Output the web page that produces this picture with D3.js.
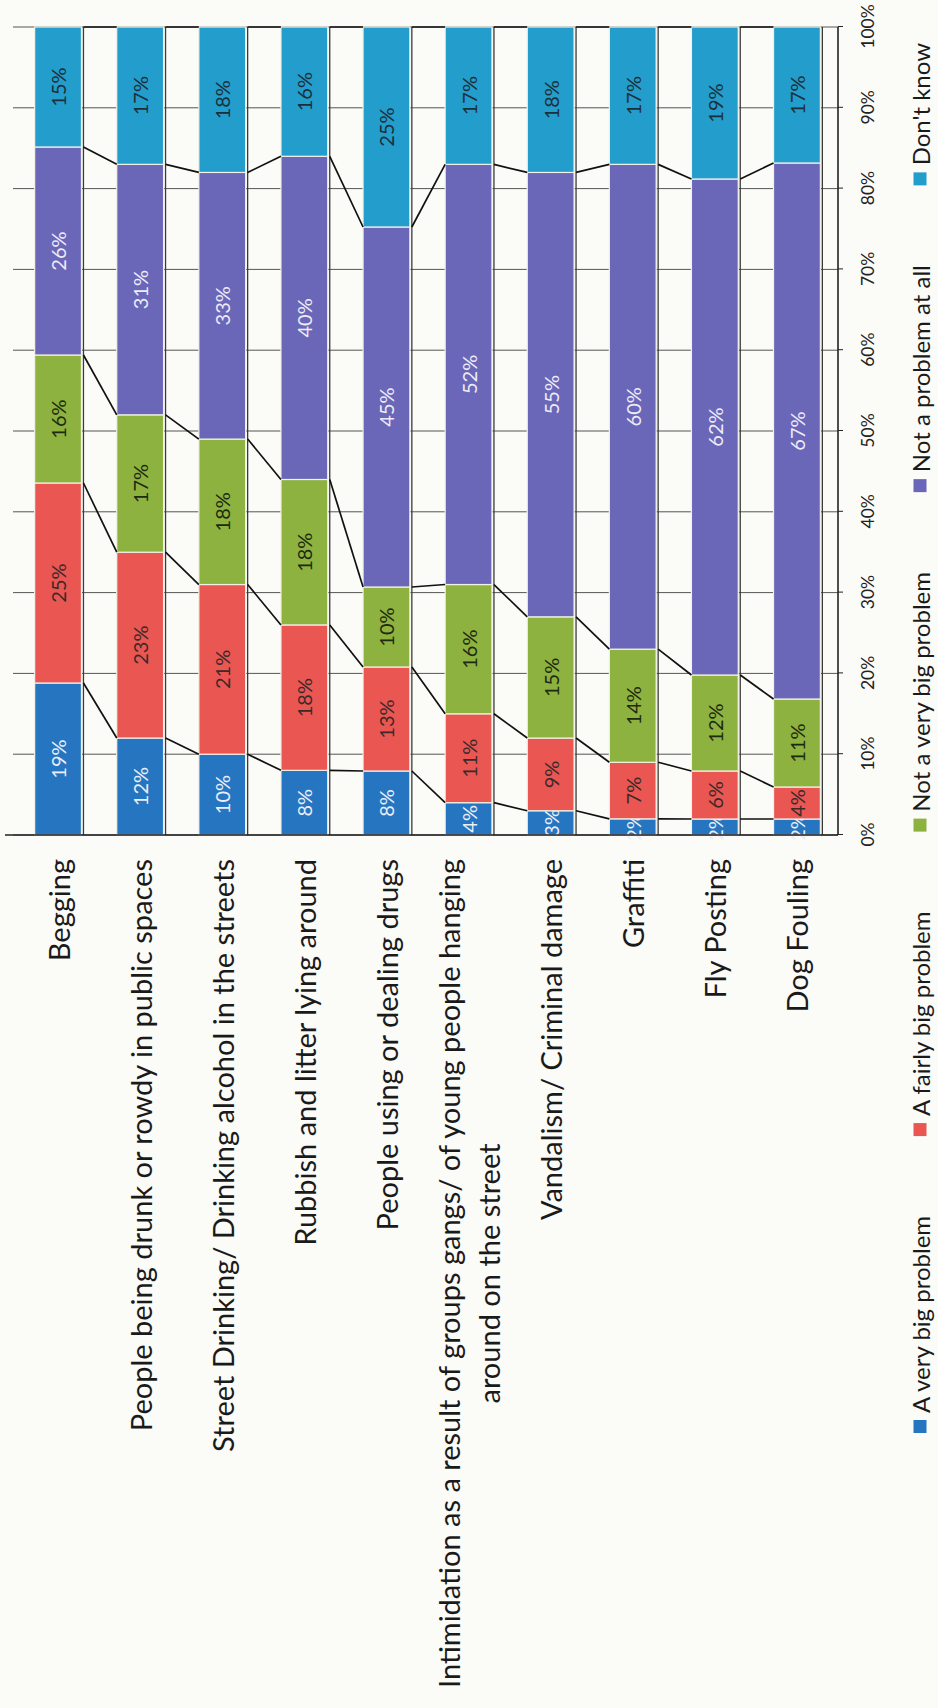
<!DOCTYPE html>
<html>
<head>
<meta charset="utf-8">
<script src="https://cdn.jsdelivr.net/npm/d3@7/dist/d3.min.js"></script>
<style>
  html, body { margin: 0; padding: 0; background: #fbfbf8; }
  svg { display: block; font-family: Lato, "Open Sans", sans-serif; }
</style>
</head>
<body>
<div id="chart"></div>
<script>
"use strict";

// data (rows top to bottom of the original chart)
var categories = [
  "Begging",
  "People being drunk or rowdy in public spaces",
  "Street Drinking/ Drinking alcohol in the streets",
  "Rubbish and litter lying around",
  "People using or dealing drugs",
  "Intimidation as a result of groups gangs/ of young people hanging\naround on the street",
  "Vandalism/ Criminal damage",
  "Graffiti",
  "Fly Posting",
  "Dog Fouling"
];
var seriesNames = ["A very big problem", "A fairly big problem", "Not a very big problem", "Not a problem at all", "Don't know"];
var veryBig    = [19, 12, 10,  8,  8,  4,  3,  2,  2,  2];
var fairlyBig  = [25, 23, 21, 18, 13, 11,  9,  7,  6,  4];
var notVeryBig = [16, 17, 18, 18, 10, 16, 15, 14, 12, 11];
var notAtAll   = [26, 31, 33, 40, 45, 52, 55, 60, 62, 67];
var dontKnow   = [15, 17, 18, 16, 25, 17, 18, 17, 19, 17];
var tickLabels = ["0%", "10%", "20%", "30%", "40%", "50%", "60%", "70%", "80%", "90%", "100%"];

var colors = ["#2675c1", "#ea5652", "#8db23f", "#6a66b8", "#239dcb"];
var labelColors = ["#e9eef7", "#3a2a2a", "#1e2a10", "#ecebf7", "#1d2f3a"];

var W = 938, H = 1708;

var rows = categories.map(function (c, i) {
  var r = { cat: c };
  r[seriesNames[0]] = veryBig[i];
  r[seriesNames[1]] = fairlyBig[i];
  r[seriesNames[2]] = notVeryBig[i];
  r[seriesNames[3]] = notAtAll[i];
  r[seriesNames[4]] = dontKnow[i];
  return r;
});

// 100% stacked, so rows summing to 101 still fill the bar
var stacked = d3.stack().keys(seriesNames).offset(d3.stackOffsetExpand)(rows);

var svg = d3.select("#chart").append("svg")
  .attr("width", W).attr("height", H);

// the scanned page is turned a quarter turn, so draw upright and rotate
var g = svg.append("g")
  .attr("transform", "translate(0," + H + ") rotate(-90)");

var plotBottom = 838;
var x = d3.scaleLinear().domain([0, 1]).range([873, 1681]);
var y = d3.scaleBand().domain(categories).range([17, plotBottom])
  .paddingInner(0.43).paddingOuter(0.215);
var bw = y.bandwidth();

var tickVals = tickLabels.map(function (s) { return parseFloat(s) / 100; });

// gridlines
g.append("g").selectAll("line")
  .data(tickVals)
  .enter().append("line")
  .attr("x1", function (d) { return x(d); })
  .attr("x2", function (d) { return x(d); })
  .attr("y1", 13).attr("y2", plotBottom)
  .attr("stroke", "#555").attr("stroke-width", 1);

// dark line along each bar's edge
g.append("g").selectAll("line")
  .data(categories)
  .enter().append("line")
  .attr("x1", x(0)).attr("x2", x(1))
  .attr("y1", function (d) { return y(d) + bw + 2; })
  .attr("y2", function (d) { return y(d) + bw + 2; })
  .attr("stroke", "#3a3a3a").attr("stroke-width", 1.3);

// bars
var layers = g.append("g").selectAll("g")
  .data(stacked)
  .enter().append("g")
  .attr("fill", function (d, i) { return colors[i]; });

layers.selectAll("rect")
  .data(function (d) { return d; })
  .enter().append("rect")
  .attr("x", function (d) { return x(d[0]); })
  .attr("width", function (d) { return x(d[1]) - x(d[0]); })
  .attr("y", function (d) { return y(d.data.cat); })
  .attr("height", bw)
  .attr("stroke", "#f3f1e6").attr("stroke-width", 1.2);

// series lines between neighbouring bars
var sLines = [];
stacked.forEach(function (layer) {
  for (var i = 0; i < layer.length - 1; i++) {
    sLines.push({ a: layer[i], b: layer[i + 1] });
  }
});
g.append("g").selectAll("line")
  .data(sLines)
  .enter().append("line")
  .attr("x1", function (d) { return x(d.a[1]); })
  .attr("y1", function (d) { return y(d.a.data.cat) + bw + 2; })
  .attr("x2", function (d) { return x(d.b[1]); })
  .attr("y2", function (d) { return y(d.b.data.cat); })
  .attr("stroke", "#111").attr("stroke-width", 1.7);

// value labels
layers.each(function (layer, k) {
  d3.select(this).selectAll("text")
    .data(layer)
    .enter().append("text")
    .attr("x", function (d) { return (x(d[0]) + x(d[1])) / 2; })
    .attr("y", function (d) { return y(d.data.cat) + bw / 2; })
    .attr("text-anchor", "middle")
    .attr("dominant-baseline", "central")
    .attr("font-size", 20)
    .attr("fill", labelColors[k])
    .text(function (d) { return d.data[layer.key] + "%"; });
});

// category axis line
g.append("line")
  .attr("x1", x(0)).attr("x2", x(0))
  .attr("y1", 5).attr("y2", plotBottom)
  .attr("stroke", "#222").attr("stroke-width", 1.6);

// value axis
var axis = g.append("g")
  .attr("transform", "translate(0," + plotBottom + ")")
  .call(d3.axisBottom(x).tickValues(tickVals)
    .tickFormat(function (d, i) { return tickLabels[i]; })
    .tickSizeOuter(0).tickSize(5).tickPadding(19));
axis.select(".domain").attr("stroke", "#222").attr("stroke-width", 1.6)
  .attr("d", "M" + x(0) + ",0H" + x(1));
axis.selectAll("line").attr("stroke", "#222");
axis.selectAll("text").attr("font-size", 17.5).attr("fill", "#222")
  .attr("font-family", "Lato, sans-serif");

// category labels
var catG = g.append("g");
var labelEnd = 849;
categories.forEach(function (c) {
  var lines = c.split("\n");
  var cy = y(c) + bw / 2;
  var off = (lines.length - 1) * 20;
  var first = catG.append("text")
    .attr("x", labelEnd)
    .attr("y", cy - off)
    .attr("text-anchor", "end")
    .attr("dominant-baseline", "central")
    .attr("font-size", 29)
    .attr("fill", "#1a1a1a")
    .text(lines[0]);
  if (lines.length > 1) {
    var len = first.node().getComputedTextLength();
    catG.append("text")
      .attr("x", labelEnd - len / 2)
      .attr("y", cy + off)
      .attr("text-anchor", "middle")
      .attr("dominant-baseline", "central")
      .attr("font-size", 29)
      .attr("fill", "#1a1a1a")
      .text(lines[1]);
  }
});

// legend: one row, items spread between a start and an end
var legend = g.append("g").attr("transform", "translate(0,920)");
var legStart = 275, legEnd = 1665, sw = 13, sg = 7;
var items = seriesNames.map(function (s, i) {
  var it = legend.append("g");
  it.append("rect")
    .attr("x", 0).attr("y", -6.5)
    .attr("width", sw).attr("height", sw)
    .attr("fill", colors[i]);
  var t = it.append("text")
    .attr("x", sw + sg).attr("y", 0)
    .attr("dominant-baseline", "central")
    .attr("font-size", 24)
    .attr("fill", "#1a1a1a")
    .text(s);
  return { g: it, w: sw + sg + t.node().getComputedTextLength() };
});
var total = d3.sum(items, function (d) { return d.w; });
var gap = (legEnd - legStart - total) / (items.length - 1);
var lx = legStart;
items.forEach(function (it) {
  it.g.attr("transform", "translate(" + lx + ",0)");
  lx += it.w + gap;
});
</script>
</body>
</html>
